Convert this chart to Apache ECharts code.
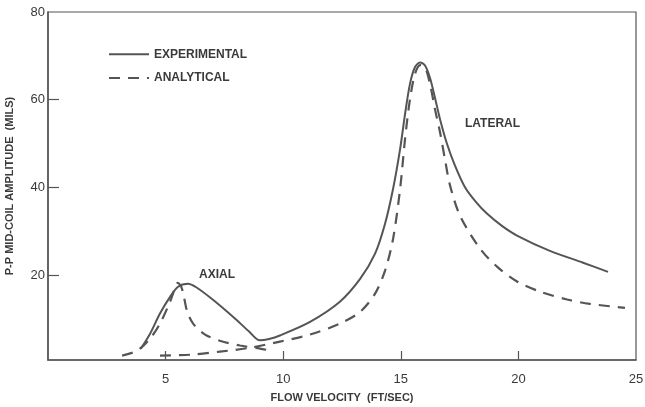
<!DOCTYPE html>
<html>
<head>
    <title>Flow Velocity vs P-P Mid-Coil Amplitude</title>
    <script src="https://cdn.jsdelivr.net/npm/echarts@6.0.0/dist/echarts.min.js"></script>
    <style>
        body {
            margin: 0;
            padding: 0;
            background-color: #ffffff;
        }

        #chart {
            width: 645px;
            height: 407px;
        }
    </style>
</head>
<body>
    <div id="chart"></div>

    <script>
        // values: [flow velocity ft/sec, amplitude mils]
        var experimental = [
            [3.95, 3.2], [4.34, 6.6], [4.76, 11.2], [5.19, 15.0], [5.53, 17.3],
            [5.95, 18.0], [6.30, 17.2], [7.00, 14.4], [7.90, 10.3], [8.55, 7.1],
            [9.00, 5.1], [9.40, 5.4], [9.86, 6.2], [11.14, 9.3], [12.41, 13.9],
            [13.27, 19.1], [13.90, 24.8], [14.33, 31.7], [14.67, 39.6], [14.97, 48.7],
            [15.18, 56.7], [15.39, 63.6], [15.60, 67.4], [15.82, 68.5], [16.03, 67.8],
            [16.24, 65.0], [16.45, 60.5], [16.67, 55.5], [16.96, 50.0], [17.30, 45.0],
            [17.73, 40.0], [18.20, 36.6], [18.66, 34.0], [19.30, 31.2], [19.94, 29.0],
            [21.34, 25.5], [22.75, 22.8], [23.81, 20.7]
        ];

        var analyticalAxial = [
            [3.15, 1.6], [3.78, 2.7], [4.34, 5.5], [4.76, 8.9], [5.19, 13.9],
            [5.40, 17.0], [5.52, 18.2], [5.66, 17.4], [5.78, 15.0], [5.91, 11.8],
            [6.17, 8.9], [6.68, 6.4], [7.31, 5.0], [8.16, 3.9], [9.01, 3.2], [9.52, 2.7]
        ];

        var analyticalLateral = [
            [4.76, 1.6], [6.04, 1.8], [7.31, 2.5], [8.59, 3.4], [9.86, 4.8],
            [11.14, 6.4], [12.41, 8.9], [13.27, 11.6], [13.90, 15.7], [14.33, 21.0],
            [14.67, 28.2], [14.97, 39.6], [15.18, 51.0], [15.39, 60.1], [15.60, 65.8],
            [15.82, 67.9], [16.03, 67.4], [16.24, 63.6], [16.45, 57.9], [16.67, 52.5],
            [16.88, 46.3], [17.09, 40.5], [17.52, 33.5], [18.37, 26.0], [19.09, 21.9],
            [19.94, 18.5], [20.92, 16.2], [22.07, 14.4], [23.04, 13.4], [24.53, 12.5]
        ];

        var xTicks = [5, 10, 15, 20];
        var xLabels = [5, 10, 15, 20, 25];
        var yTicks = [20, 40, 60];
        var yLabels = [20, 40, 60, 80];

        var inkText = '#3a3a3a';
        var inkLine = '#555555';
        var font = 'Liberation Sans, Arial, sans-serif';

        var chart = echarts.init(document.getElementById('chart'));

        var option = {
            animation: false,
            grid: {
                left: 48,
                right: 9,
                top: 12,
                bottom: 47,
                outerBoundsMode: 'none',
                containLabel: false,
                show: true,
                borderColor: inkLine,
                borderWidth: 1.2
            },
            legend: {
                left: 103,
                top: 39,
                orient: 'vertical',
                itemWidth: 40,
                itemHeight: 14,
                itemGap: 3,
                data: ['EXPERIMENTAL', 'ANALYTICAL'],
                itemStyle: { opacity: 0 },
                textStyle: {
                    color: inkText,
                    fontFamily: font,
                    fontSize: 12,
                    fontWeight: 'bold'
                }
            },
            xAxis: {
                type: 'value',
                min: 0,
                max: 25,
                name: 'FLOW VELOCITY  (FT/SEC)',
                nameLocation: 'middle',
                nameGap: 28,
                nameMoveOverlap: false,
                nameTextStyle: {
                    color: inkText,
                    fontFamily: font,
                    fontSize: 11,
                    fontWeight: 'bold'
                },
                splitLine: { show: false },
                axisLine: { lineStyle: { color: inkLine, width: 1.5 } },
                axisTick: {
                    inside: true,
                    length: 9,
                    customValues: xTicks,
                    lineStyle: { color: inkLine, width: 1.2 }
                },
                axisLabel: {
                    customValues: xLabels,
                    margin: 8,
                    color: inkText,
                    fontFamily: font,
                    fontSize: 13
                }
            },
            yAxis: {
                type: 'value',
                min: 0.6,
                max: 80,
                name: 'P-P MID-COIL AMPLITUDE  (MILS)',
                nameLocation: 'middle',
                nameGap: 23,
                nameTextStyle: {
                    color: inkText,
                    fontFamily: font,
                    fontSize: 11,
                    fontWeight: 'bold'
                },
                splitLine: { show: false },
                axisLine: { lineStyle: { color: inkLine, width: 1.5 } },
                axisTick: {
                    inside: true,
                    length: 11,
                    customValues: yTicks,
                    lineStyle: { color: inkLine, width: 1.2 }
                },
                axisLabel: {
                    customValues: yLabels,
                    margin: 3,
                    color: inkText,
                    fontFamily: font,
                    fontSize: 13
                }
            },
            graphic: [
                {
                    type: 'text',
                    left: 199,
                    top: 264,
                    style: {
                        text: 'AXIAL',
                        fill: inkText,
                        font: 'bold 12px Liberation Sans, Arial, sans-serif'
                    }
                },
                {
                    type: 'text',
                    left: 465,
                    top: 113,
                    style: {
                        text: 'LATERAL',
                        fill: inkText,
                        font: 'bold 12px Liberation Sans, Arial, sans-serif'
                    }
                }
            ],
            series: [
                {
                    name: 'EXPERIMENTAL',
                    type: 'line',
                    data: experimental,
                    smooth: 0.3,
                    symbol: 'none',
                    lineStyle: { color: inkLine, width: 2 },
                    itemStyle: { color: inkLine }
                },
                {
                    name: 'ANALYTICAL',
                    type: 'line',
                    data: analyticalAxial,
                    smooth: 0.3,
                    symbol: 'none',
                    lineStyle: { color: inkLine, width: 2.2, type: [11, 8] },
                    itemStyle: { color: inkLine }
                },
                {
                    name: 'ANALYTICAL',
                    type: 'line',
                    data: analyticalLateral,
                    smooth: 0.3,
                    symbol: 'none',
                    lineStyle: { color: inkLine, width: 2.2, type: [11, 8] },
                    itemStyle: { color: inkLine }
                }
            ]
        };

        chart.setOption(option);
    </script>
</body>
</html>
